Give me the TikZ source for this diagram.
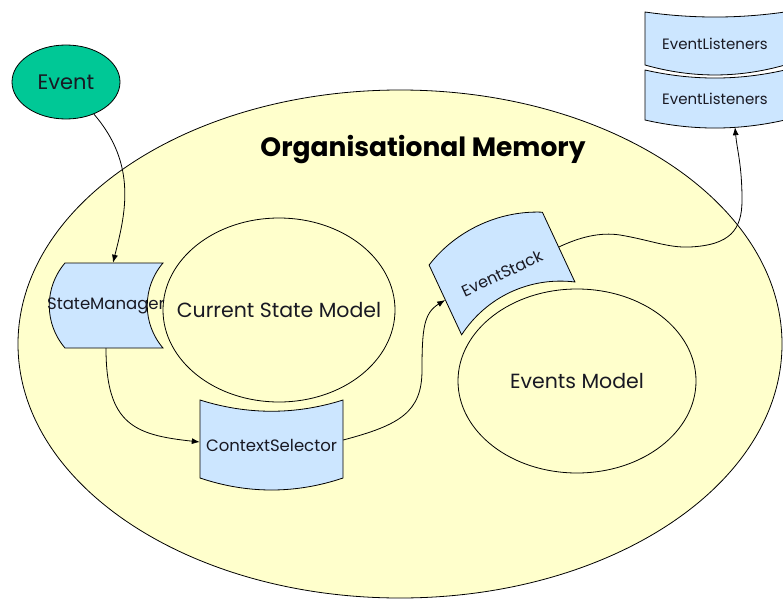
\documentclass[tikz,border=0pt]{standalone}
\usepackage{fontspec}
\setmainfont{Poppins}
\usetikzlibrary{shapes.geometric,arrows.meta,calc}
\definecolor{memyellow}{RGB}{255,255,204}
\definecolor{storeblue}{RGB}{204,230,255}
\definecolor{eventgreen}{RGB}{0,200,150}
\definecolor{inkdark}{RGB}{25,25,35}
\pgfdeclarelayer{back}
\pgfdeclarelayer{shapes}
\pgfsetlayers{back,shapes,main}
\newcommand{\fs}[1]{\fontsize{#1}{#1}\selectfont}
\begin{document}
\begin{tikzpicture}[x=1pt,y=-1pt,
  outline/.style={draw=black, line width=0.8pt},
  store/.style={outline, fill=storeblue},
  oval/.style={outline, ellipse, inner sep=0pt, text=inkdark},
  boxlabel/.style={draw=none, inner sep=0pt, text=inkdark},
  flow/.style={draw=black, line width=0.8pt, -{Latex[length=8pt,width=6pt]}}]
\useasboundingbox (0,0) rectangle (783,599);
\clip (0,0) rectangle (783,599);

% the organisational memory
\begin{pgfonlayer}{back}
  \node[oval, fill=memyellow, minimum width=764pt, minimum height=508pt] (mem) at (400,344) {};
\end{pgfonlayer}
\node[boxlabel, text=black, font=\fs{26.5}\bfseries] (title) at (423,150) {Organisational Memory};

% the event
\node[oval, fill=eventgreen, minimum width=108pt, minimum height=74pt, font=\fs{21}] (event) at (66,82) {Event};

% the two models
\node[boxlabel, font=\fs{20.5}] (csm) at (279,310) {Current State Model};
\draw[outline] (csm.center) ellipse [x radius=116, y radius=92];
\node[boxlabel, font=\fs{20.5}] (em) at (577,381) {Events Model};
\draw[outline] (em.center) ellipse [x radius=119, y radius=92];

% labelled stores (outlines drawn underneath on the shapes layer)
\node[boxlabel, minimum width=114pt, minimum height=85pt, font=\fs{16.5}] (sm) at (106,305.5) {StateManager};
\node[boxlabel, minimum width=143pt, minimum height=90pt, font=\fs{16.5}] (cs) at (271.5,445) {ContextSelector};
\node[boxlabel, rotate=25, minimum width=125pt, minimum height=77pt, font=\fs{16}] (es) at (502,273.5) {EventStack};
\node[boxlabel, minimum width=140pt, minimum height=63pt, font=\fs{15}] (el1) at (715,43.5) {EventListeners};
\node[boxlabel, minimum width=140pt, minimum height=58pt, font=\fs{15}] (el2) at (715,99) {EventListeners};

\begin{pgfonlayer}{shapes}
  \begin{scope}[shift={(sm.center)}]
    \path[store] (-41,-42.5) .. controls (-62,-18) and (-62,18) .. (-41,42.5)
      -- (57,42.5) .. controls (36,18) and (36,-18) .. (57,-42.5) -- cycle;
  \end{scope}
  \begin{scope}[shift={(cs.center)}]
    \path[store] (-71.5,-45) .. controls (-24,-30) and (24,-30) .. (71.5,-45)
      -- (71.5,33) .. controls (24,49) and (-24,49) .. (-71.5,33) -- cycle;
  \end{scope}
  \begin{scope}[shift={(es.center)}, rotate=25]
    \path[store] (-62.5,-38.5) .. controls (-24,-58.5) and (24,-58.5) .. (62.5,-38.5)
      -- (62.5,38.5) .. controls (24,14.5) and (-24,14.5) .. (-62.5,38.5) -- cycle;
  \end{scope}
  \begin{scope}[shift={(el1.center)}]
    \path[store] (-70,-31.5) .. controls (-23,-24.8) and (23,-24.8) .. (70,-31.5)
      -- (70,21.5) .. controls (23,34.8) and (-23,34.8) .. (-70,21.5) -- cycle;
  \end{scope}
  \begin{scope}[shift={(el2.center)}]
    \path[store] (-70,-29) .. controls (-23,-18.3) and (23,-18.3) .. (70,-29)
      -- (70,21) .. controls (23,31.7) and (-23,31.7) .. (-70,21) -- cycle;
  \end{scope}
\end{pgfonlayer}

% flows
\draw[flow] (event) .. controls (138,165) and (125,215) .. ($(sm.north)+(7,0)$);
\draw[flow] (sm.south) .. controls (106,425) and (135,435) .. ($(cs.west)+(0,-3)$);
\draw[flow] ($(cs.east)+(0,-5)$) .. controls (400,425) and (422,412) .. (422,370)
  .. controls (422,328) and (424,313) .. (es.west);
\draw[flow] (es.east) .. controls (580,237) and (600,232) .. (620,235)
  .. controls (650,240) and (668,248) .. (690,247)
  .. controls (730,245) and (742,230) .. (742,200)
  .. controls (742,165) and (737,150) .. ($(el2.south)+(20,-1)$);
\end{tikzpicture}
\end{document}
